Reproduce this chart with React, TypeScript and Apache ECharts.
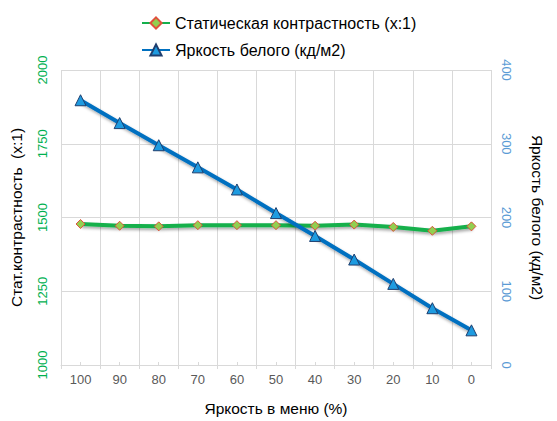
import {useEffect, useRef} from "react";
import * as echarts from "echarts";

const categories = ["100", "90", "80", "70", "60", "50", "40", "30", "20", "10", "0"];
const contrast = [1478, 1472, 1470, 1474, 1474, 1474, 1472, 1476, 1468, 1455, 1470];
const brightness = [359, 328, 298, 268, 238, 206, 175, 143, 110, 77, 47];

const FONT = "'Liberation Sans', Arial, sans-serif";
const GRID_COLOR = "#D9D9D9";
const lineShadow = {shadowColor: "rgba(0,0,0,0.35)", shadowBlur: 3, shadowOffsetX: 1, shadowOffsetY: 2};

export default function App() {
    const domRef = useRef<HTMLDivElement>(null);

    useEffect(() => {
        document.body.style.margin = "0";
        if (!domRef.current) return;
        const chart = echarts.init(domRef.current, undefined, {renderer: "svg"});
        chart.setOption({
            animation: false,
            textStyle: {fontFamily: FONT},
            legend: {
                orient: "vertical",
                left: 141,
                top: 15,
                padding: 0,
                itemWidth: 28,
                itemHeight: 14,
                itemGap: 11,
                textStyle: {fontSize: 16, color: "#000", fontFamily: FONT},
            },
            grid: {left: 61, right: 66, top: 70, bottom: 53},
            xAxis: [
                {
                    type: "category",
                    data: categories,
                    boundaryGap: true,
                    name: "Яркость в меню (%)",
                    nameLocation: "middle",
                    nameGap: 35,
                    nameTextStyle: {fontSize: 15.5, color: "#000"},
                    axisLine: {lineStyle: {color: GRID_COLOR, width: 1}},
                    axisTick: {show: true, length: 4, lineStyle: {color: GRID_COLOR}},
                    axisLabel: {fontSize: 13, color: "#595959", margin: 8},
                    splitLine: {show: true, lineStyle: {color: GRID_COLOR, width: 1}},
                },
                {
                    // small inner ticks at category centres
                    type: "category",
                    data: categories,
                    boundaryGap: true,
                    position: "bottom",
                    axisLine: {show: false},
                    axisTick: {show: true, alignWithLabel: true, inside: true, length: 3, lineStyle: {color: GRID_COLOR}},
                    axisLabel: {show: false},
                    splitLine: {show: false},
                },
            ],
            yAxis: [
                {
                    type: "value",
                    min: 1000,
                    max: 2000,
                    interval: 250,
                    name: "Стат.контрастность  (x:1)",
                    nameLocation: "middle",
                    nameGap: 37,
                    nameRotate: 90,
                    nameTextStyle: {fontSize: 15.5, color: "#000"},
                    axisLine: {show: false},
                    axisTick: {show: false},
                    axisLabel: {fontSize: 13, color: "#00B050", rotate: 90, margin: 12, formatter: (v: number) => String(v)},
                    splitLine: {show: true, lineStyle: {color: GRID_COLOR, width: 1}},
                },
                {
                    type: "value",
                    min: 0,
                    max: 400,
                    interval: 100,
                    position: "right",
                    name: "Яркость белого (кд/м2)",
                    nameLocation: "middle",
                    nameGap: 38,
                    nameRotate: -90,
                    nameTextStyle: {fontSize: 15.5, color: "#000"},
                    axisLine: {show: false},
                    axisTick: {show: false},
                    axisLabel: {fontSize: 13, color: "#5B9BD5", rotate: -90, margin: 9},
                    splitLine: {show: false},
                },
            ],
            series: [
                {
                    name: "Статическая контрастность (x:1)",
                    type: "line",
                    yAxisIndex: 0,
                    data: contrast,
                    symbol: "diamond",
                    symbolSize: 9,
                    lineStyle: {color: "#14B04C", width: 4, ...lineShadow},
                    itemStyle: {color: "#92D050", borderColor: "#E0503C", borderWidth: 1},
                    z: 3,
                },
                {
                    name: "Яркость белого (кд/м2)",
                    type: "line",
                    yAxisIndex: 1,
                    data: brightness,
                    symbol: "triangle",
                    symbolSize: 11,
                    lineStyle: {color: "#0070C0", width: 4, ...lineShadow},
                    itemStyle: {color: "#1E9BE0", borderColor: "#1F3F6F", borderWidth: 1},
                    z: 4,
                },
            ],
        });

        return () => {
            chart.dispose();
        };
    }, []);

    return <div ref={domRef} style={{width: 557, height: 421}} />;
}
